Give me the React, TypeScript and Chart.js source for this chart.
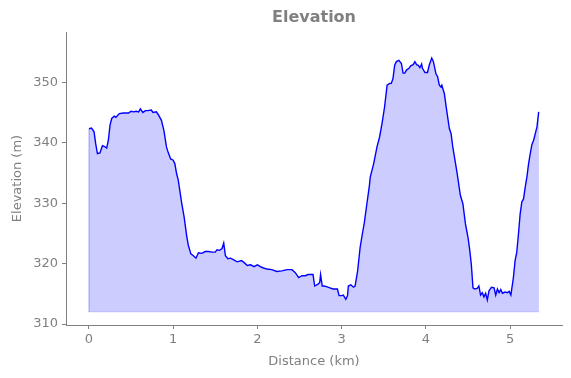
import React, { useEffect, useRef } from "react";
import { Chart, registerables } from "chart.js";

Chart.register(...registerables);

const distanceKm = [
  0.0, 0.03, 0.06, 0.08, 0.1, 0.13, 0.16, 0.18, 0.21, 0.23, 0.25, 0.27, 0.3, 0.32, 0.36, 0.41, 0.47, 0.5,
  0.53, 0.56, 0.59, 0.61, 0.64, 0.67, 0.7, 0.74, 0.76, 0.8, 0.82, 0.86, 0.89, 0.92, 0.94, 0.97, 1.0, 1.02,
  1.04, 1.06, 1.1, 1.13, 1.16, 1.18, 1.21, 1.24, 1.27, 1.3, 1.34, 1.38, 1.42, 1.46, 1.5, 1.52, 1.55, 1.58,
  1.6, 1.62, 1.65, 1.68, 1.72, 1.76, 1.81, 1.84, 1.88, 1.92, 1.96, 2.0, 2.05, 2.11, 2.17, 2.23, 2.29, 2.35,
  2.41, 2.45, 2.49, 2.53, 2.57, 2.6, 2.66, 2.68, 2.72, 2.74, 2.75, 2.77, 2.79, 2.82, 2.86, 2.9, 2.95, 2.97,
  3.0, 3.02, 3.05, 3.07, 3.08, 3.11, 3.14, 3.16, 3.19, 3.22, 3.24, 3.27, 3.3, 3.33, 3.34, 3.38, 3.42, 3.45,
  3.48, 3.51, 3.54, 3.57, 3.59, 3.61, 3.63, 3.65, 3.68, 3.71, 3.73, 3.75, 3.77, 3.8, 3.82, 3.85, 3.87, 3.89,
  3.91, 3.93, 3.95, 3.96, 3.99, 4.02, 4.04, 4.07, 4.09, 4.12, 4.14, 4.16, 4.18, 4.19, 4.22, 4.25, 4.28, 4.3,
  4.32, 4.35, 4.37, 4.41, 4.44, 4.47, 4.5, 4.52, 4.54, 4.56, 4.58, 4.61, 4.63, 4.65, 4.67, 4.69, 4.71, 4.73,
  4.75, 4.78, 4.81, 4.83, 4.85, 4.87, 4.89, 4.91, 4.94, 4.97, 4.99, 5.01, 5.04, 5.06, 5.08, 5.1, 5.12, 5.14,
  5.16, 5.18, 5.2, 5.22, 5.24, 5.26, 5.28, 5.3, 5.32, 5.34,
];

const elevationM = [
  342.3, 342.4, 341.8, 339.8, 338.2, 338.3, 339.5, 339.4, 339.1, 340.4, 342.9, 344.0, 344.4, 344.2, 344.8, 344.9, 344.9, 345.2,
  345.1, 345.2, 345.1, 345.6, 345.0, 345.3, 345.3, 345.4, 345.0, 345.1, 344.7, 343.7, 342.0, 339.3, 338.4, 337.3, 337.1, 336.5,
  334.9, 333.8, 330.1, 327.7, 324.6, 323.0, 321.6, 321.3, 320.9, 321.8, 321.7, 322.0, 322.0, 321.9, 321.9, 322.3, 322.2, 322.5,
  323.4, 321.3, 320.8, 320.9, 320.6, 320.3, 320.5, 320.2, 319.7, 319.8, 319.5, 319.8, 319.4, 319.1, 319.0, 318.7, 318.8, 319.0,
  319.0, 318.5, 317.7, 318.0, 318.0, 318.2, 318.2, 316.3, 316.6, 316.9, 318.2, 316.3, 316.3, 316.2, 316.0, 315.8, 315.8, 314.7,
  314.7, 314.8, 314.1, 314.7, 316.3, 316.5, 316.1, 316.3, 318.8, 322.7, 324.4, 326.8, 329.9, 332.9, 334.3, 336.5, 339.3, 340.9,
  343.2, 345.9, 349.5, 349.8, 349.8, 350.6, 352.8, 353.4, 353.6, 353.1, 351.5, 351.5, 352.0, 352.3, 352.7, 352.9, 353.4, 352.9,
  352.8, 352.4, 353.0, 352.3, 351.6, 351.6, 352.8, 354.0, 353.4, 351.4, 350.9, 349.5, 349.2, 349.5, 348.1, 345.1, 342.3, 341.5,
  339.3, 336.8, 335.1, 331.3, 329.9, 326.6, 324.4, 322.4, 319.9, 316.0, 315.8, 315.9, 316.3, 314.8, 315.2, 314.5, 315.1, 314.0,
  315.5, 316.1, 316.0, 314.8, 315.8, 315.2, 315.7, 315.1, 315.3, 315.2, 315.4, 314.8, 317.7, 320.5, 321.9, 324.9, 328.2, 330.2,
  330.7, 332.6, 334.3, 336.5, 338.2, 339.7, 340.4, 341.5, 342.6, 345.1,
];

const fillBase = 312;
const xTicks = [0, 1, 2, 3, 4, 5];
const yTicks = [310, 320, 330, 340, 350];
const xRange = [-0.273, 5.617];
const yRange = [309.85, 358.3];
const chartTitle = "Elevation";

const TEXT = "#808080";
const FONT = "'DejaVu Sans', sans-serif";

const titlePlugin = {
  id: "axesTitle",
  afterDraw(chart: any) {
    const { ctx, chartArea } = chart;
    ctx.save();
    ctx.fillStyle = TEXT;
    ctx.font = `bold 16px ${FONT}`;
    ctx.textAlign = "center";
    ctx.textBaseline = "middle";
    ctx.fillText(chartTitle, (chartArea.left + chartArea.right) / 2, 18);
    ctx.restore();
  },
};

export default function App() {
  const ref = useRef<HTMLCanvasElement | null>(null);

  useEffect(() => {
    document.body.style.margin = "0";
    const ctx = ref.current!.getContext("2d")!;
    const pts = distanceKm.map((x, i) => ({ x, y: elevationM[i] }));
    const n = distanceKm.length;
    const edge = [
      { x: distanceKm[0], y: elevationM[0] },
      { x: distanceKm[0], y: fillBase },
      { x: distanceKm[n - 1], y: fillBase },
      { x: distanceKm[n - 1], y: elevationM[n - 1] },
    ];
    const chart = new Chart(ctx, {
      type: "line",
      data: {
        datasets: [
          {
            data: pts,
            borderColor: "#0000ff",
            borderWidth: 1.4,
            pointRadius: 0,
            fill: false,
            tension: 0,
            order: 0,
          },
          {
            data: pts,
            borderColor: "rgba(0,0,0,0)",
            backgroundColor: "rgba(0,0,255,0.2)",
            borderWidth: 0,
            pointRadius: 0,
            fill: { value: fillBase },
            tension: 0,
            order: 2,
          },
          {
            data: edge,
            borderColor: "rgba(0,0,255,0.12)",
            borderWidth: 1,
            pointRadius: 0,
            fill: false,
            tension: 0,
            order: 1,
          },
        ],
      },
      options: {
        responsive: false,
        animation: false,
        layout: { padding: { left: 0, right: 9, top: 32, bottom: 0 } },
        plugins: {
          legend: { display: false },
          tooltip: { enabled: false },
          title: { display: false },
        },
        scales: {
          x: {
            type: "linear",
            min: xRange[0],
            max: xRange[1],
            afterBuildTicks: (s: any) => {
              s.ticks = xTicks.map((v) => ({ value: v }));
            },
            afterFit: (s: any) => {
              s.height = 53;
            },
            grid: { display: true, drawOnChartArea: false, drawTicks: true, tickLength: 4, color: TEXT },
            border: { display: true, color: TEXT, width: 1 },
            ticks: { color: TEXT, font: { family: FONT, size: 13 }, padding: 3, maxRotation: 0 },
            title: {
              display: true,
              text: "Distance (km)",
              color: TEXT,
              font: { family: FONT, size: 13 },
              padding: { top: 2, bottom: 9 },
            },
          },
          y: {
            type: "linear",
            min: yRange[0],
            max: yRange[1],
            afterBuildTicks: (s: any) => {
              s.ticks = yTicks.map((v) => ({ value: v }));
            },
            afterFit: (s: any) => {
              s.width = 66;
            },
            grid: { display: true, drawOnChartArea: false, drawTicks: true, tickLength: 4, color: TEXT },
            border: { display: true, color: TEXT, width: 1 },
            ticks: { color: TEXT, font: { family: FONT, size: 13 }, padding: 4 },
            title: {
              display: true,
              text: "Elevation (m)",
              color: TEXT,
              font: { family: FONT, size: 13 },
              padding: { top: 10, bottom: 4 },
            },
          },
        },
      },
      plugins: [titlePlugin],
    });
    return () => chart.destroy();
  }, []);

  return (
    <div style={{ position: "absolute", left: 0, top: 0, width: 571, height: 378 }}>
      <canvas ref={ref} width={571} height={378} style={{ width: 571, height: 378 }} />
    </div>
  );
}
